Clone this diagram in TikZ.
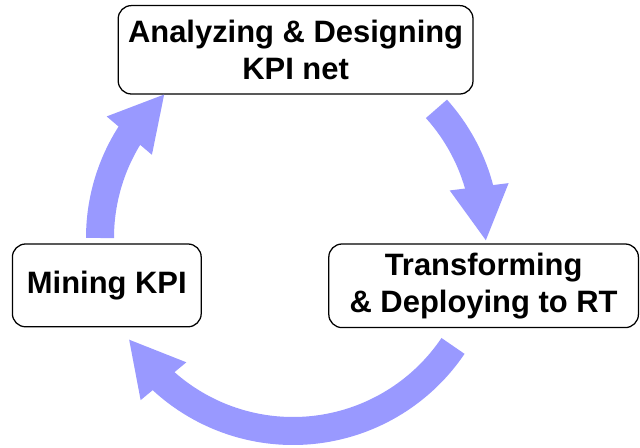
\documentclass[tikz,border=0pt]{standalone}
\usepackage{fontspec}
\setmainfont{Liberation Sans}
\usetikzlibrary{arrows.meta,bending,positioning,calc}
\definecolor{cyclblue}{RGB}{153,153,255}

\begin{document}
\begin{tikzpicture}[font=\fontsize{22}{26.5}\selectfont\bfseries,
   bx/.style={draw,rounded corners=3.3mm,line width=0.9pt,align=center,inner sep=0pt},
   cyc/.style={cyclblue,line width=7mm,-{Triangle[width=13.75mm,length=13.75mm]}}]
  \useasboundingbox (0,0) rectangle (16,11.175);
  \node[bx,minimum width=8.87cm,minimum height=2.21cm] (ana) at (7.39,9.93) {Analyzing \& Designing\\KPI net};
  \node[bx,minimum width=4.72cm,minimum height=2.07cm] (mine) at (2.67,4.04) {Mining KPI};
  \node[bx,minimum width=7.74cm,minimum height=2.09cm] (tra) at (12.09,4.03) {Transforming\\\& Deploying to RT};
  \coordinate (c) at (7.325,5.225);
  \draw[cyc] ($(c)+(42:4.825)$) arc (42:-1:4.825);
  \draw[cyc] ($(c)+(-34:4.825)$) arc (-34:-148.5:4.825);
  \draw[cyc] ($(c)+(180:4.825)$) arc (180:131.6:4.825);
\end{tikzpicture}
\end{document}
